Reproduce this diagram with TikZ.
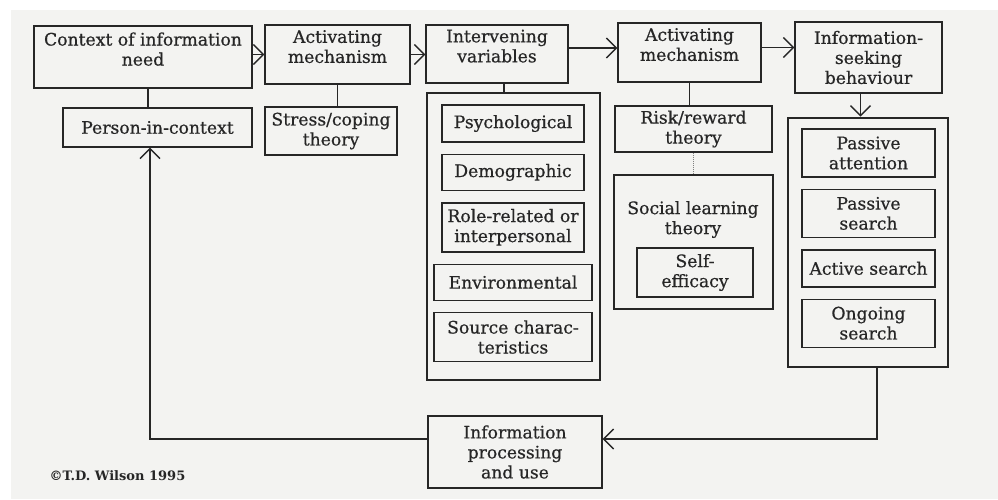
\documentclass[tikz,border=0pt]{standalone}
\usepackage{fontspec}
\setmainfont{DejaVu Serif}
\newfontfamily\diagfont{DejaVu Serif}[FakeBold=0.6]
\usetikzlibrary{positioning,arrows.meta}
\definecolor{scan}{HTML}{F3F3F1}
\definecolor{ink}{HTML}{262626}
\tikzset{
	box/.style 2 args={draw=ink, line width=1.4pt, align=center, inner sep=0pt, text=ink,
		minimum width=#1, minimum height=#2, font=\diagfont\fontsize{17.2}{20}\selectfont},
	frame/.style 2 args={draw=ink, line width=2.9pt, minimum width=#1, minimum height=#2},
	link/.style={draw=ink, line width=1.4pt},
	arr/.style={link, -{Straight Barb[length=10pt,width=20pt]}},
}

\begin{document}
\begin{tikzpicture}[x=1pt, y=-1pt]
	\fill[white] (0,0) rectangle (998,499);
	\fill[scan] (11,10) rectangle (998,499);
	\useasboundingbox (0,0) rectangle (998,499);

	\node[box={218pt}{62pt}] (ctx) at (143,57) {Context of information\\need\\[-4pt]~};
	\node[box={145pt}{59pt}] (act1) at (337.5,54.5) {Activating\\mechanism\\[-4pt]~};
	\node[box={142pt}{58pt}] (interv) at (497,54) {Intervening\\variables\\[-4pt]~};
	\node[box={143pt}{59pt}] (act2) at (689.5,52.5) {Activating\\mechanism\\[-4pt]~};
	\node[box={147pt}{71pt}] (seek) at (868.5,57.5) {Information-\\seeking\\behaviour};

	\node[box={189pt}{39pt}] (person) at (157.5,127.5) {Person-in-context};
	\node[box={132pt}{48pt}] (stress) at (331,131) {Stress/coping\\theory};

	\node[frame={173pt}{287pt}] (intframe) at (513.5,236.5) {};
	\node[box={142pt}{37pt}] (psych) at (513,123.5) {Psychological};
	\node[box={142pt}{36pt}, below=11pt of psych] (demog) {Demographic};
	\node[box={142pt}{49pt}, below=11pt of demog] (role) {Role-related or\\interpersonal};
	\node[box={158pt}{36pt}, below=11pt of role] (env) {Environmental};
	\node[box={158pt}{49pt}, below=11pt of env] (source) {Source charac-\\teristics};

	\node[box={157pt}{46pt}] (risk) at (693.5,129) {Risk/reward\\theory};
	\node[box={159pt}{134pt}] (social) at (693.5,242) {};
	\node[text=ink, align=center, font=\diagfont\fontsize{17.2}{20}\selectfont] (socialtxt) at (693,219.5) {Social learning\\theory};
	\node[box={116pt}{49pt}] (selfeff) at (695,272.5) {Self-\\efficacy};

	\node[frame={160pt}{249pt}] (seekframe) at (868,242.5) {};
	\node[box={133pt}{48pt}] (passatt) at (868.5,153) {Passive\\attention};
	\node[box={133pt}{48pt}, below=11pt of passatt] (passsearch) {Passive\\search};
	\node[box={133pt}{37pt}, below=11pt of passsearch] (active) {Active search};
	\node[box={133pt}{48pt}, below=11pt of active] (ongoing) {Ongoing\\search};

	\node[box={174pt}{72pt}] (infoproc) at (515,452) {Information\\processing\\and use};
	\node[anchor=west, text=ink, font=\fontsize{13}{16}\selectfont\bfseries] (credit) at (46,476) {\textcopyright T.D. Wilson 1995};

	\draw[arr] (ctx.east |- act1.west) -- (act1.west);
	\draw[arr] (act1.east) -- (act1.east -| interv.west);
	\draw[arr] ([yshift=6pt]interv.east) -- ([yshift=6pt]interv.east -| act2.west);
	\draw[arr] ([yshift=5pt]act2.east) -- ([yshift=5pt]act2.east -| seek.west);

	\draw[link] ([xshift=5pt]ctx.south) -- ([xshift=5pt]ctx.south |- person.north);
	\draw[link] (act1.south) -- (act1.south |- stress.north);
	\draw[link] ([xshift=7pt]interv.south) -- ([xshift=7pt]interv.south |- intframe.north);
	\draw[link] (act2.south) -- (act2.south |- risk.north);
	\draw[draw=gray, line width=1pt, densely dotted] (risk.south) -- (social.north);
	\draw[arr] ([xshift=-8pt]seek.south) -- ([xshift=-8pt]seek.south |- seekframe.north);

	\draw[arr] ([xshift=9pt]seekframe.south) |- ([yshift=13pt]infoproc.east);
	\draw[arr] ([yshift=13pt]infoproc.west) -| ([xshift=-7.5pt]person.south);
\end{tikzpicture}
\end{document}
